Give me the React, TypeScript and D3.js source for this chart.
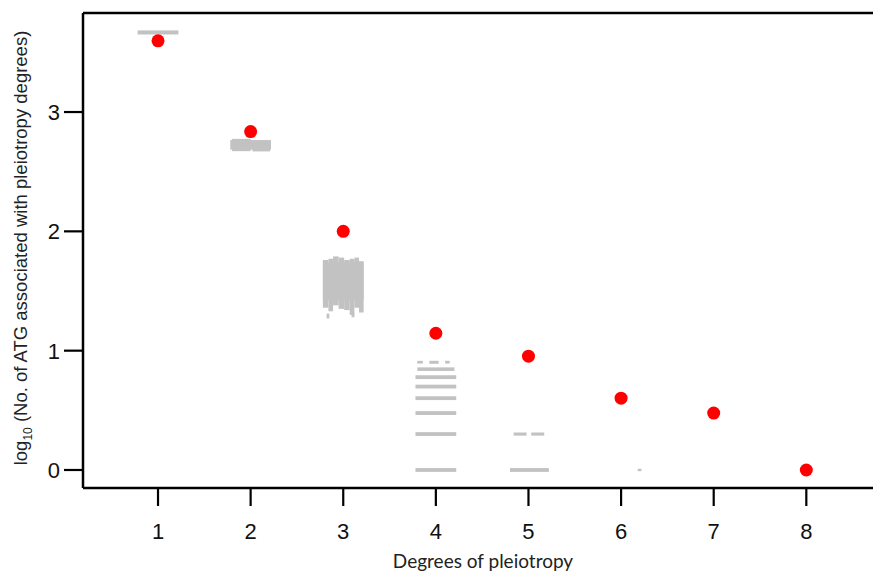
import React from "react";
import * as d3 from "d3";

const degrees = [1, 2, 3, 4, 5, 6, 7, 8];
const observed = [3.597, 2.836, 2.0, 1.146, 0.954, 0.602, 0.477, 0.0];
const yTicks = [0, 1, 2, 3];

// null-distribution bands: [degree, xOffsetStart, xOffsetEnd, low, high]
const bands1: [number, number, number, number, number][] = [
  [1, -0.22, 0.22, 3.65, 3.684],
];
const bands2: [number, number, number, number, number][] = [
  [2, -0.22, 0.22, 2.685, 2.765],
  [2, -0.2, 0.0, 2.672, 2.775],
  [2, 0.02, 0.21, 2.67, 2.762],
];
const bands3: [number, number, number, number, number][] = [
  [3, -0.22, 0.22, 1.42, 1.74],
  [3, -0.22, -0.16, 1.36, 1.76],
  [3, -0.16, -0.11, 1.33, 1.77],
  [3, -0.11, -0.05, 1.38, 1.79],
  [3, -0.05, 0.01, 1.35, 1.78],
  [3, 0.01, 0.07, 1.34, 1.76],
  [3, 0.07, 0.12, 1.3, 1.77],
  [3, 0.12, 0.17, 1.36, 1.78],
  [3, 0.17, 0.22, 1.32, 1.75],
  [3, -0.18, -0.15, 1.27, 1.31],
  [3, 0.09, 0.12, 1.28, 1.32],
];
const bands4: [number, number, number, number, number][] = [
  [4, -0.22, 0.22, -0.016, 0.016],
  [4, -0.22, 0.22, 0.285, 0.317],
  [4, -0.22, 0.22, 0.461, 0.493],
  [4, -0.22, 0.22, 0.586, 0.618],
  [4, -0.22, 0.22, 0.683, 0.715],
  [4, -0.22, 0.22, 0.762, 0.794],
  [4, -0.2, 0.2, 0.83, 0.86],
  [4, -0.2, -0.14, 0.892, 0.915],
  [4, -0.07, 0.03, 0.89, 0.915],
  [4, 0.1, 0.15, 0.892, 0.915],
];
const bands5: [number, number, number, number, number][] = [
  [5, -0.2, 0.22, -0.016, 0.016],
  [5, -0.16, -0.02, 0.288, 0.314],
  [5, 0.03, 0.17, 0.288, 0.314],
];
const bands6: [number, number, number, number, number][] = [
  [6, 0.18, 0.22, -0.01, 0.01],
];

const allBands = [...bands1, ...bands2, ...bands3, ...bands4, ...bands5, ...bands6];

const W = 873;
const H = 572;

export default function App() {
  const x = d3.scaleLinear().domain([0.19, 8.72]).range([83, 873]);
  const y = d3.scaleLinear().domain([-0.151, 3.83]).range([488, 13]);
  const left = 83, top = 13, bottom = 488;

  return (
    <svg
      width={W}
      height={H}
      style={{ position: "absolute", left: 0, top: 0, background: "#fff" }}
    >
      {allBands.map((b, i) => (
        <rect
          key={"b" + i}
          x={x(b[0] + b[1])}
          width={x(b[0] + b[2]) - x(b[0] + b[1])}
          y={y(b[4])}
          height={Math.max(1, y(b[3]) - y(b[4]))}
          fill="#c2c2c2"
        />
      ))}
      {degrees.map((d, i) => (
        <circle key={"c" + i} cx={x(d)} cy={y(observed[i])} r={6.5} fill="#ff0000" />
      ))}
      {/* frame */}
      <line x1={left} x2={W} y1={top} y2={top} stroke="#000" strokeWidth={2.5} />
      <line x1={left} x2={left} y1={top} y2={bottom} stroke="#000" strokeWidth={2.5} />
      <line x1={left} x2={W} y1={bottom} y2={bottom} stroke="#000" strokeWidth={2.5} />
      {/* y ticks */}
      {yTicks.map((t) => (
        <g key={"y" + t}>
          <line x1={64} x2={left} y1={y(t)} y2={y(t)} stroke="#000" strokeWidth={2.2} />
          <text
            x={60}
            y={y(t)}
            dy="0.36em"
            textAnchor="end"
            fontFamily="Liberation Sans, Arial, sans-serif"
            fontSize={22}
            fill="#111"
          >
            {t}
          </text>
        </g>
      ))}
      {/* x ticks */}
      {degrees.map((d) => (
        <g key={"x" + d}>
          <line x1={x(d)} x2={x(d)} y1={bottom} y2={506} stroke="#000" strokeWidth={2.2} />
          <text
            x={x(d)}
            y={539}
            textAnchor="middle"
            fontFamily="Liberation Sans, Arial, sans-serif"
            fontSize={22}
            fill="#111"
          >
            {d}
          </text>
        </g>
      ))}
      <text
        x={483}
        y={568}
        textAnchor="middle"
        fontFamily="Lato, Open Sans, sans-serif"
        fontSize={19}
        fill="#222"
      >
        Degrees of pleiotropy
      </text>
      <text
        transform={`translate(27,248) rotate(-90)`}
        textAnchor="middle"
        fontFamily="Liberation Sans, Arial, sans-serif"
        fontSize={18.5}
        fill="#222"
      >
        log<tspan fontSize={12} dy={5}>10</tspan>
        <tspan dy={-5}> (No. of ATG associated with pleiotropy degrees)</tspan>
      </text>
    </svg>
  );
}
